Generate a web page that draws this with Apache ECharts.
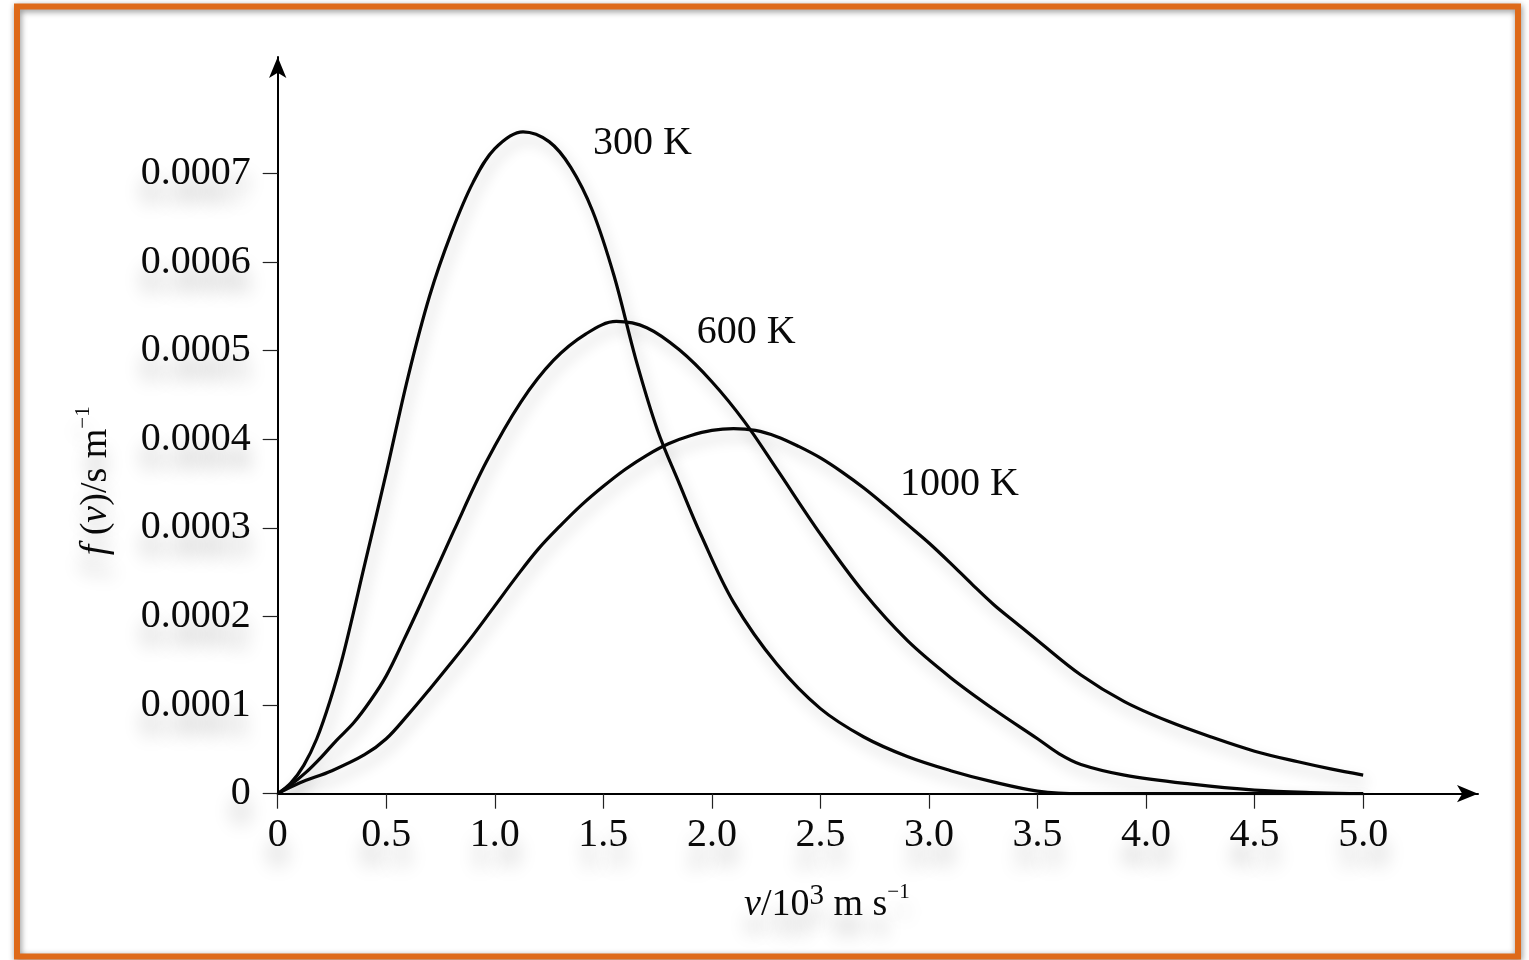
<!DOCTYPE html>
<html>
<head>
<meta charset="utf-8">
<script src="https://cdn.jsdelivr.net/npm/echarts@6/dist/echarts.min.js"></script>
<style>
html,body{margin:0;padding:0;background:#ffffff;}
#c{width:1529px;height:960px;}
</style>
</head>
<body>
<div id="c"></div>
<script>
// speed v in 10^3 m/s ; f(v) in units of 10^-4 s/m
const v300 = [0, 0.06, 0.12, 0.18, 0.24, 0.3, 0.4, 0.5, 0.6, 0.7, 0.8, 0.9, 1.0, 1.13, 1.25, 1.35, 1.45, 1.55, 1.65, 1.75, 1.85, 1.95, 2.1, 2.3, 2.5, 2.7, 2.9, 3.1, 3.3, 3.5, 3.7, 4.0, 4.5, 5.0];
const f300 = [0, 0.12, 0.32, 0.62, 1.04, 1.55, 2.58, 3.62, 4.7, 5.62, 6.33, 6.9, 7.28, 7.47, 7.36, 7.07, 6.58, 5.84, 4.9, 4.1, 3.5, 2.92, 2.16, 1.46, 0.96, 0.64, 0.42, 0.26, 0.13, 0.03, 0, 0, 0, 0];

const v600 = [0, 0.06, 0.13, 0.2, 0.27, 0.35, 0.43, 0.5, 0.58, 0.66, 0.81, 0.96, 1.12, 1.27, 1.42, 1.56, 1.7, 1.85, 2.0, 2.15, 2.3, 2.5, 2.7, 2.9, 3.1, 3.3, 3.5, 3.6, 3.7, 3.9, 4.2, 4.5, 4.8, 5.0];
const f600 = [0, 0.1, 0.24, 0.41, 0.6, 0.8, 1.06, 1.33, 1.73, 2.15, 2.96, 3.74, 4.42, 4.89, 5.19, 5.33, 5.26, 5.01, 4.65, 4.2, 3.66, 2.93, 2.27, 1.73, 1.31, 0.95, 0.62, 0.45, 0.33, 0.21, 0.11, 0.04, 0.01, 0];

const v1000 = [0, 0.1, 0.25, 0.4, 0.5, 0.6, 0.7, 0.8, 0.9, 1.0, 1.1, 1.2, 1.3, 1.4, 1.5, 1.6, 1.7, 1.8, 1.9, 2.0, 2.1, 2.2, 2.3, 2.4, 2.5, 2.6, 2.7, 2.8, 2.9, 3.0, 3.1, 3.2, 3.3, 3.4, 3.5, 3.7, 3.9, 4.1, 4.3, 4.5, 4.7, 4.85, 5.0];
const f1000 = [0, 0.12, 0.26, 0.44, 0.62, 0.89, 1.18, 1.48, 1.79, 2.12, 2.45, 2.76, 3.02, 3.26, 3.47, 3.66, 3.82, 3.95, 4.04, 4.1, 4.12, 4.1, 4.03, 3.92, 3.79, 3.63, 3.45, 3.25, 3.04, 2.83, 2.6, 2.36, 2.13, 1.93, 1.73, 1.34, 1.04, 0.82, 0.64, 0.48, 0.36, 0.28, 0.21];

const xTicks = [0, 0.5, 1.0, 1.5, 2.0, 2.5, 3.0, 3.5, 4.0, 4.5, 5.0];
const yTicks = [0, 0.0001, 0.0002, 0.0003, 0.0004, 0.0005, 0.0006, 0.0007];

const curveLabels = ['300 K', '600 K', '1000 K'];
const labelV = [1.452, 1.93, 2.866];
const labelF = [7.34, 5.2, 3.49];

const UNIT = 1e-4;
function pairs(v, f) { return v.map((x, i) => [x, f[i] * UNIT]); }

const FONT = '"Liberation Serif", "Times New Roman", serif';
const INK = '#0a0a0a';
const TXT_SHADOW = {
  textShadowColor: 'rgba(0,0,0,0.28)',
  textShadowBlur: 18,
  textShadowOffsetY: 20
};
const LINE_STYLE = {
  color: '#050505',
  width: 3.2,
  shadowColor: 'rgba(0,0,0,0.22)',
  shadowBlur: 14,
  shadowOffsetX: 4,
  shadowOffsetY: 8
};

function lineSeries(name, v, f) {
  return {
    name: name,
    type: 'line',
    data: pairs(v, f),
    smooth: 0.35,
    showSymbol: false,
    color: '#050505',
    lineStyle: LINE_STYLE,
    silent: true,
    z: 3
  };
}

const chart = echarts.init(document.getElementById('c'), null, { renderer: 'canvas' });

const borderRect = {
  id: 'border',
  type: 'rect',
  silent: true,
  z: 100,
  shape: { x: 17, y: 6.5, width: 1501, height: 950 },
  style: {
    fill: 'none',
    stroke: '#DE6A1A',
    lineWidth: 6,
    shadowColor: 'rgba(0,0,0,0.45)',
    shadowBlur: 6,
    shadowOffsetX: 1,
    shadowOffsetY: 2
  }
};

const option = {
  backgroundColor: '#ffffff',
  animation: false,
  grid: {
    left: 277.7,
    right: 51,
    top: 57,
    bottom: 166.3,
    containLabel: false,
    outerBoundsMode: 'none'
  },
  xAxis: {
    type: 'value',
    min: 0,
    max: 5.529,
    splitLine: { show: false },
    axisLine: {
      show: true,
      onZero: false,
      symbol: ['none', 'arrow'],
      symbolSize: [13, 21],
      lineStyle: { color: '#000', width: 2 }
    },
    axisTick: {
      show: true,
      customValues: xTicks,
      length: 15,
      lineStyle: { color: '#222', width: 1.2 }
    },
    axisLabel: Object.assign({
      customValues: xTicks,
      formatter: v => v === 0 ? '0' : v.toFixed(1),
      margin: 22,
      fontFamily: FONT,
      fontSize: 40,
      lineHeight: 40,
      color: INK
    }, TXT_SHADOW),
    name: '{i|v}/10{s1|3} m s{s2|\u22121}',
    nameLocation: 'middle',
    nameGap: 88,
    nameTextStyle: Object.assign({
      fontFamily: FONT,
      fontSize: 38,
      lineHeight: 46,
      color: INK,
      padding: [0, 102, 0, 0],
      rich: {
        i: { fontFamily: FONT, fontStyle: 'italic', fontSize: 38, lineHeight: 46, color: INK },
        s1: { fontFamily: FONT, fontSize: 29, lineHeight: 29, verticalAlign: 'top', color: INK },
        s2: { fontFamily: FONT, fontSize: 21, lineHeight: 30, verticalAlign: 'top', color: INK }
      }
    }, TXT_SHADOW)
  },
  yAxis: {
    type: 'value',
    min: 0,
    max: 0.0008315,
    splitLine: { show: false },
    axisLine: {
      show: true,
      onZero: false,
      symbol: ['none', 'arrow'],
      symbolSize: [13, 21],
      lineStyle: { color: '#000', width: 2 }
    },
    axisTick: {
      show: true,
      customValues: yTicks,
      length: 15,
      lineStyle: { color: '#222', width: 1.2 }
    },
    axisLabel: Object.assign({
      customValues: yTicks,
      formatter: v => v === 0 ? '0' : v.toFixed(4),
      margin: 27,
      fontFamily: FONT,
      fontSize: 40,
      lineHeight: 40,
      color: INK
    }, TXT_SHADOW),
    name: '{i|f} ({i|v})/s m{s2|\u22121}',
    nameLocation: 'middle',
    nameGap: 159,
    nameTextStyle: Object.assign({
      fontFamily: FONT,
      fontSize: 38,
      lineHeight: 46,
      color: INK,
      padding: [0, 111, 0, 0],
      rich: {
        i: { fontFamily: FONT, fontStyle: 'italic', fontSize: 38, lineHeight: 46, color: INK },
        s2: { fontFamily: FONT, fontSize: 21, lineHeight: 30, verticalAlign: 'top', color: INK }
      }
    }, TXT_SHADOW)
  },
  graphic: [borderRect],
  series: [
    lineSeries('300 K', v300, f300),
    lineSeries('600 K', v600, f600),
    lineSeries('1000 K', v1000, f1000)
  ]
};

chart.setOption(option);

// curve labels, positioned through the chart's own coordinate conversion
const labelGraphics = curveLabels.map((txt, i) => {
  const p = chart.convertToPixel({ gridIndex: 0 }, [labelV[i], labelF[i] * UNIT]);
  return {
    id: 'lbl' + i,
    type: 'text',
    silent: true,
    z: 50,
    x: p[0],
    y: p[1],
    style: {
      text: txt,
      fontFamily: FONT,
      fontSize: 40,
      fill: INK,
      align: 'left',
      verticalAlign: 'middle',
      shadowColor: 'rgba(0,0,0,0.28)',
      shadowBlur: 18,
      shadowOffsetY: 20
    }
  };
});
chart.setOption({ graphic: [borderRect].concat(labelGraphics) });
</script>
</body>
</html>
